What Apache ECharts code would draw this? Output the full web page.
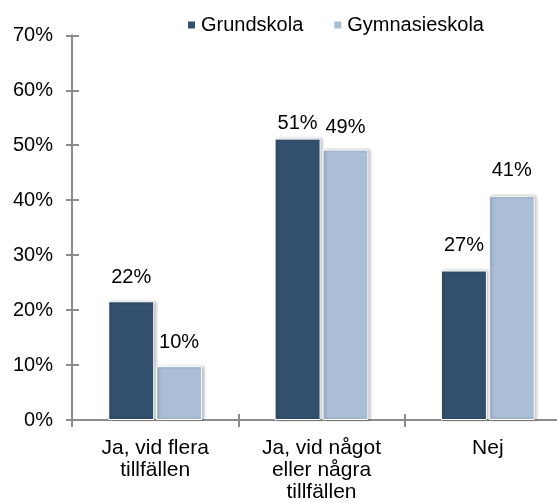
<!DOCTYPE html>
<html>
<head>
<meta charset="utf-8">
<script src="https://cdn.jsdelivr.net/npm/echarts@6/dist/echarts.min.js"></script>
<style>html,body{margin:0;padding:0;background:#fff;overflow:hidden;width:557px;height:503px}#c{width:580px;height:503px}</style>
</head>
<body>
<div id="c"></div>
<script>
const categories = ['Ja, vid flera\ntillfällen', 'Ja, vid något\neller några\ntillfällen', 'Nej'];
const grundskola = [21.6, 51.2, 27.2];
const gymnasieskola = [9.8, 49.2, 40.8];
const yTicks = [0, 10, 20, 30, 40, 50, 60, 70];

const FONT = '"Liberation Sans", Arial, sans-serif';
const chart = echarts.init(document.getElementById('c'));
const labelDist = [[14, 5, 15], [14, 12.5, 15]];
function mk(vals, si) {
  return vals.map((v, i) => ({ value: v, label: { distance: labelDist[si][i] } }));
}
const barStyle = (color) => ({
  color: color, borderColor: '#ffffff', borderWidth: 1,
  shadowBlur: 3, shadowColor: 'rgba(0,0,0,0.28)', shadowOffsetX: 2, shadowOffsetY: 0
});
const lbl = {
  show: true, position: 'top', fontFamily: FONT, fontSize: 20, color: '#000',
  formatter: p => Math.round(p.value) + '%'
};
chart.setOption({
  animation: false,
  legend: {
    left: 186, top: 13, padding: 0, itemWidth: 9, itemHeight: 9, itemGap: 29,
    icon: 'rect',
    textStyle: { fontFamily: FONT, fontSize: 20, color: '#000', lineHeight: 24 },
    data: ['Grundskola', 'Gymnasieskola']
  },
  grid: { left: 72, top: 35.3, right: 9, bottom: 82, containLabel: false },
  xAxis: [{
    type: 'category', data: categories,
    axisLine: { lineStyle: { color: '#8c8c8c', width: 2 } },
    axisTick: { show: true, length: 7, lineStyle: { color: '#8c8c8c', width: 2 } },
    axisLabel: { fontFamily: FONT, fontSize: 21, color: '#000', lineHeight: 22, margin: 17, interval: 0 }
  }, {
    type: 'category', data: categories, position: 'bottom',
    axisLine: { show: false },
    axisTick: { show: true, inside: true, length: 6, lineStyle: { color: '#8c8c8c', width: 2 } },
    axisLabel: { show: false }
  }],
  yAxis: [{
    type: 'value', min: yTicks[0], max: yTicks[yTicks.length - 1], interval: 10,
    axisLine: { show: true, lineStyle: { color: '#8c8c8c', width: 2 } },
    axisTick: { show: true, length: 6, lineStyle: { color: '#8c8c8c', width: 2 } },
    splitLine: { show: false },
    axisLabel: { fontFamily: FONT, fontSize: 20, color: '#000', margin: 19, formatter: v => v + '%' }
  }, {
    type: 'value', min: yTicks[0], max: yTicks[yTicks.length - 1], interval: 10, position: 'left',
    axisLine: { show: false },
    axisTick: { show: true, inside: true, length: 7, lineStyle: { color: '#8c8c8c', width: 2 } },
    splitLine: { show: false },
    axisLabel: { show: false }
  }],
  series: [{
    name: 'Grundskola', type: 'bar', data: mk(grundskola, 0), barWidth: 46, barGap: '4%',
    itemStyle: barStyle('#33506f'), label: lbl
  }, {
    name: 'Gymnasieskola', type: 'bar', data: mk(gymnasieskola, 1), barWidth: 46, barGap: '4%',
    itemStyle: barStyle('#aabed6'), label: lbl
  }]
});
</script>
</body>
</html>
